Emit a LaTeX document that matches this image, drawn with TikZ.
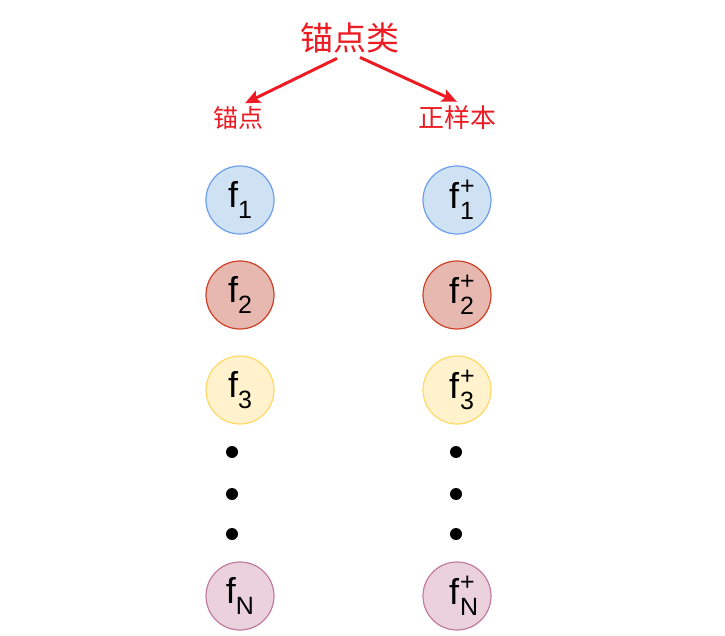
\documentclass[tikz,border=0pt]{standalone}
\usepackage{fontspec}
\setmainfont{Liberation Sans}
\newfontfamily\cjk{Noto Sans CJK SC}
\usetikzlibrary{arrows.meta}

\definecolor{labelred}{HTML}{ED1C24}
\definecolor{blueline}{HTML}{6D9EEB}
\definecolor{bluefill}{HTML}{CFE2F3}
\definecolor{redline}{HTML}{CC4125}
\definecolor{redfill}{HTML}{E6B8AF}
\definecolor{yellowline}{HTML}{FFD966}
\definecolor{yellowfill}{HTML}{FFF2CC}
\definecolor{purpleline}{HTML}{C27BA0}
\definecolor{purplefill}{HTML}{EAD1DC}

\newcommand{\subfont}{\fontsize{25}{25}\selectfont}
% anchor feature f_#1, positive feature f_#1^+
\newcommand{\fanchor}[1]{f\raisebox{-.3em}{\subfont #1}}
\newcommand{\fpos}[1]{\kern10pt f\kern1pt\rlap{\raisebox{-.3em}{\subfont #1}}\raisebox{.38em}{\subfont +}}

\begin{document}
\begin{tikzpicture}[x=1pt,y=-1pt,
  feat/.style={circle, line width=1.2pt, minimum size=68pt, inner sep=0pt,
    font=\fontsize{36}{36}\selectfont},
  dotnode/.style={circle, fill=black, minimum size=12pt, inner sep=0pt},
  redarrow/.style={-{Stealth[length=15pt,width=13pt,inset=3pt]}, line width=3pt, labelred}]

  \useasboundingbox (0,0) rectangle (725,636);

  \node[text=labelred, inner sep=0pt, font=\cjk\fontsize{33}{33}\selectfont] (title) at (350,38) {锚点类};
  \node[text=labelred, inner sep=0pt, font=\cjk\fontsize{25}{25}\selectfont] (anchor) at (238,118) {锚点};
  \node[text=labelred, inner sep=0pt, font=\cjk\fontsize{26}{26}\selectfont] (positive) at (457,118) {正样本};

  \draw[redarrow] ([xshift=-13pt,yshift=-5pt]title.south) -- ([xshift=7pt,yshift=3pt]anchor.north);
  \draw[redarrow] ([xshift=10pt,yshift=-4pt]title.south) -- ([yshift=4pt]positive.north);

  \foreach \y/\col/\sub [count=\i] in {200/blue/1, 295/red/2, 390/yellow/3, 596/purple/N} {
      \node[feat, draw=\col line, fill=\col fill] (a\i) at (240,\y) {\fanchor{\sub}};
      \node[feat, draw=\col line, fill=\col fill] (p\i) at (457,\y) {\fpos{\sub}};
  }

  \foreach \y [count=\i] in {452,494,534} {
      \node[dotnode] (adot\i) at (232,\y) {};
      \node[dotnode] (pdot\i) at (456,\y) {};
  }

\end{tikzpicture}
\end{document}
